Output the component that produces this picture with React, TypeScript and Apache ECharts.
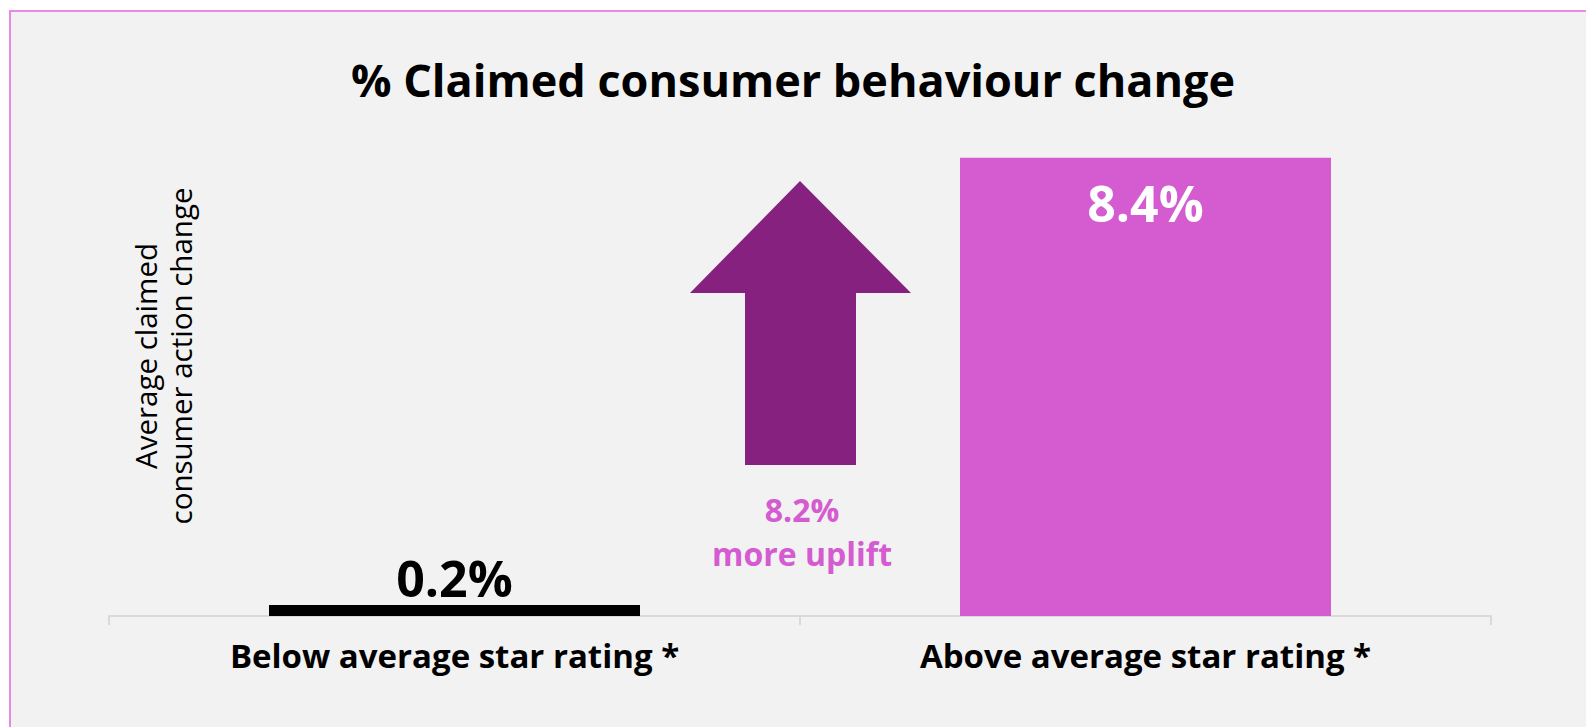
import React, { useEffect, useRef } from "react";
import * as echarts from "echarts";

const categories = ["Below average star rating *", "Above average star rating *"];
const values = [0.2, 8.4];
const titleText = "% Claimed consumer behaviour change";
const axisTitleLines = ["Average claimed", "consumer action change"];
const upliftSuffix = "more uplift";

const PINK = "#d55bd0";
const PURPLE = "#86217f";
const FONT = "'Open Sans', 'Noto Sans', sans-serif";

export default function App() {
  const ref = useRef<HTMLDivElement>(null);
  useEffect(() => {
    if (!ref.current) return;
    const chart = echarts.init(ref.current, undefined, { renderer: "svg" });
    const uplift = (values[1] - values[0]).toFixed(1);
    chart.setOption({
      animation: false,
      backgroundColor: "transparent",
      textStyle: { fontFamily: FONT },
      title: {
        text: titleText,
        left: "center",
        top: 52,
        textStyle: { fontFamily: FONT, fontWeight: 700, fontSize: 45, color: "#000" },
      },
      grid: { left: 109, right: 95, top: 125, bottom: 111 },
      xAxis: {
        type: "category",
        data: categories,
        axisLine: { lineStyle: { color: "#d9d9d9", width: 2 } },
        axisTick: { show: true, length: 9, lineStyle: { color: "#d9d9d9", width: 2 } },
        axisLabel: { fontFamily: FONT, fontWeight: 700, fontSize: 33, color: "#000", margin: 23 },
      },
      yAxis: {
        type: "value",
        min: 0,
        max: 9,
        show: false,
        splitLine: { show: false },
      },
      series: [
        {
          type: "bar",
          barWidth: 371,
          data: [
            {
              value: values[0],
              itemStyle: { color: "#000" },
              label: {
                show: true,
                position: "top",
                distance: 2,
                color: "#000",
                fontFamily: FONT,
                fontWeight: 700,
                fontSize: 50,
                formatter: (p: any) => p.value.toFixed(1) + "%",
              },
            },
            {
              value: values[1],
              itemStyle: { color: PINK },
              label: {
                show: true,
                position: "insideTop",
                distance: 20,
                color: "#fff",
                fontFamily: FONT,
                fontWeight: 700,
                fontSize: 50,
                formatter: (p: any) => p.value.toFixed(1) + "%",
              },
            },
          ],
        },
      ],
      graphic: [
        {
          type: "polygon",
          shape: {
            points: [
              [800, 181],
              [911, 293],
              [856, 293],
              [856, 465],
              [745, 465],
              [745, 293],
              [690, 293],
            ],
          },
          style: { fill: PURPLE },
        },
        {
          type: "text",
          x: 802,
          y: 531,
          style: {
            text: uplift + "%\n" + upliftSuffix,
            fill: PINK,
            font: `700 32px ${FONT}`,
            lineHeight: 44,
            align: "center",
            verticalAlign: "middle",
          },
        },
        {
          type: "text",
          x: 163,
          y: 356,
          rotation: Math.PI / 2,
          style: {
            text: axisTitleLines.join("\n"),
            fill: "#000",
            font: `400 29.5px ${FONT}`,
            lineHeight: 35,
            align: "center",
            verticalAlign: "middle",
          },
        },
      ],
    });
    return () => chart.dispose();
  }, []);

  return (
    <div style={{ position: "fixed", left: 0, top: 0, width: 1586, height: 727, background: "#fff" }}>
      <div
        style={{
          position: "absolute",
          left: 9,
          top: 10,
          width: 1577,
          height: 717,
          boxSizing: "border-box",
          borderTop: "2px solid #e68ae3",
          borderLeft: "2px solid #e68ae3",
          background: "#f2f2f2",
        }}
      />
      <div ref={ref} style={{ position: "absolute", left: 0, top: 0, width: 1586, height: 727 }} />
    </div>
  );
}
